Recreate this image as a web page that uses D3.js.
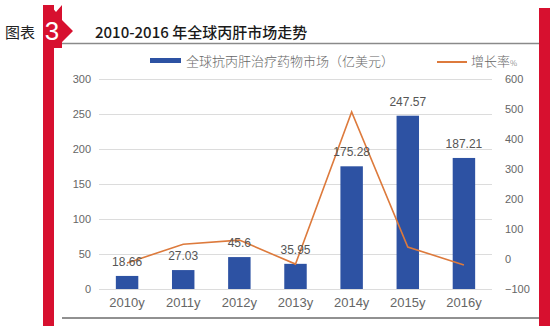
<!DOCTYPE html>
<html><head><meta charset="utf-8">
<script src="https://cdn.jsdelivr.net/npm/d3@7"></script>
<style>body{margin:0;background:#fff}svg{display:block;font-family:"Noto Sans CJK SC","Liberation Sans",sans-serif}</style>
</head><body>
<svg id="c" width="550" height="326"></svg>
<script>
const categories = ["2010y","2011y","2012y","2013y","2014y","2015y","2016y"];
const marketValues = [18.66, 27.03, 45.6, 35.95, 175.28, 247.57, 187.21];
const growthRates = [-13, 49, 63, -17, 490, 40, -20];
const leftTicks = [0,50,100,150,200,250,300];
const rightTicks = [-100,0,100,200,300,400,500,600];
const titleText = "2010-2016 年全球丙肝市场走势";
const barLegend = "全球抗丙肝治疗药物市场（亿美元）";
const lineLegend = "增长率";

const svg = d3.select("#c");
const barColor = "#2D52A3", lineColor = "#DD7A3C", red = "#D7102F";

const x = d3.scaleBand().domain(categories).range([99, 492]).paddingInner(0.6).paddingOuter(0.3);
const yL = d3.scaleLinear().domain([0,300]).range([289,79]);
const yR = d3.scaleLinear().domain([-100,600]).range([289,79]);

// frame
svg.append("rect").attr("x",43).attr("y",5).attr("width",11).attr("height",321).attr("fill",red);
svg.append("rect").attr("x",539).attr("y",8).attr("width",11).attr("height",318).attr("fill",red);
svg.append("path").attr("d","M43,5 L50,5 L56,12 L62,5 L62,20 L73,31 L62,42 L62,48 L54,48 L54,326 L43,326 Z").attr("fill",red);
svg.append("text").attr("x",52).attr("y",40).attr("text-anchor","middle").attr("fill","#fff")
  .attr("font-size",26).attr("font-family","Liberation Sans, sans-serif").text("3");
svg.append("text").attr("x",5).attr("y",38).attr("font-size",15).attr("fill","#222").text("图表");
svg.append("line").attr("x1",62).attr("x2",539).attr("y1",43.5).attr("y2",43.5).attr("stroke","#8a8a8a").attr("stroke-width",1.5);
svg.append("text").attr("x",95).attr("y",38).attr("font-size",15).attr("font-weight",500).attr("fill","#1a1a1a").text(titleText);
svg.append("line").attr("x1",62).attr("x2",539).attr("y1",318).attr("y2",318).attr("stroke","#222").attr("stroke-width",1);

// gridlines
svg.append("g").selectAll("line").data(leftTicks).join("line")
  .attr("x1",99).attr("x2",492).attr("y1",d=>Math.round(yL(d))+0.5).attr("y2",d=>Math.round(yL(d))+0.5)
  .attr("stroke","#dcdcdc").attr("stroke-width",1);

// axes
const axL = svg.append("g").attr("transform","translate(99,0)").call(d3.axisLeft(yL).tickValues(leftTicks).tickSize(0).tickPadding(8));
const axR = svg.append("g").attr("transform","translate(492,0)").call(d3.axisRight(yR).tickValues(rightTicks).tickSize(0).tickPadding(13));
const axB = svg.append("g").attr("transform","translate(0,289)").call(d3.axisBottom(x).tickSize(0).tickPadding(9));
[axL,axR,axB].forEach(a=>{a.select(".domain").remove();a.selectAll("text").attr("fill","#666").attr("font-family","Liberation Sans, sans-serif");});
axL.selectAll("text").attr("font-size",11);
axR.selectAll("text").attr("font-size",11);
axB.selectAll("text").attr("font-size",13);

// bars
svg.append("g").selectAll("rect").data(marketValues).join("rect")
  .attr("x",(d,i)=>x(categories[i])).attr("width",x.bandwidth())
  .attr("y",d=>yL(d)).attr("height",d=>yL(0)-yL(d)).attr("fill",barColor);

// line
const line = d3.line().x((d,i)=>x(categories[i])+x.bandwidth()/2).y(d=>yR(d));
svg.append("path").datum(growthRates).attr("d",line).attr("fill","none").attr("stroke",lineColor).attr("stroke-width",1.6);

// data labels
svg.append("g").selectAll("text").data(marketValues).join("text")
  .attr("x",(d,i)=>x(categories[i])+x.bandwidth()/2).attr("y",d=>yL(d)-10)
  .attr("text-anchor","middle").attr("font-size",12).attr("fill","#555")
  .attr("font-family","Liberation Sans, sans-serif").text(d=>d);

// legend
svg.append("rect").attr("x",150).attr("y",58).attr("width",31).attr("height",5).attr("fill",barColor);
svg.append("text").attr("x",186).attr("y",66).attr("font-size",13).attr("font-weight",300).attr("fill","#666").text(barLegend);
svg.append("line").attr("x1",437).attr("x2",467).attr("y1",62).attr("y2",62).attr("stroke",lineColor).attr("stroke-width",2);
const lt = svg.append("text").attr("x",471).attr("y",66).attr("font-size",13).attr("font-weight",300).attr("fill","#666").text(lineLegend);
lt.append("tspan").attr("font-size",8).text("%");
</script>
</body></html>
